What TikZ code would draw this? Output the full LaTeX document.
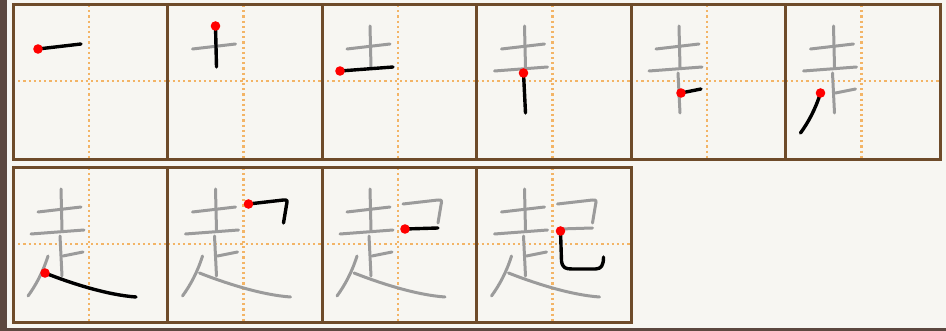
\documentclass[tikz,border=0pt]{standalone}
\usepackage{tikz}
\definecolor{paper}{HTML}{F7F6F2}
\definecolor{frame}{HTML}{6E4B2A}
\definecolor{guide}{HTML}{F3B466}
\definecolor{inkgrey}{HTML}{9B9B9B}
\definecolor{photo}{HTML}{5C4840}
\tikzset{
  cellframe/.style={draw=frame,line width=3pt},
  guideline/.style={draw=guide,line width=2.2pt,dash pattern=on 2.2pt off 3pt},
  oldstroke/.style={draw=inkgrey,line width=3pt,line cap=round,line join=round},
  newstroke/.style={draw=black,line width=3.4pt,line cap=round,line join=round},
  hua 1/.style={insert path={(25,44)--(68,39)}},
  hua 2/.style={insert path={(48,21)--(49,62)}},
  hua 3/.style={insert path={(18,66)--(71,62)}},
  hua 4/.style={insert path={(47,68)--(49,108)}},
  hua 5/.style={insert path={(50,88)--(70,84)}},
  hua 6/.style={insert path={(35,88) .. controls (30,104) and (23,117) .. (15,128)}},
  hua 7/.style={insert path={(32,105) .. controls (60,116) and (95,127) .. (123,129)}},
  hua 8/.style={insert path={(81,36)--(116,32) .. controls (120,32) .. (119,37)--(116,55)}},
  hua 9/.style={insert path={(83,61)--(116,60)}},
  hua 10/.style={insert path={(84,63)--(85,93) .. controls (86,100) and (89,101) .. (96,101)--(119,101) .. controls (125,101) and (127,97) .. (127,89)}}
}
\begin{document}
\begin{tikzpicture}[x=1pt,y=-1pt]
 \fill[paper] (0,0) rectangle (946,331);
 \fill[photo] (0,0) rectangle (7,331);
 \fill[photo] (0,328) rectangle (946,331);
 \foreach \n/\cx/\cy/\sx/\sy in {1/13/5/25/44, 2/167.5/5/48/21, 3/322/5/18/66,
     4/476.5/5/47/68, 5/631/5/50/88, 6/785.5/5/35/88, 7/13/168/32/105,
     8/167.5/168/81/36, 9/322/168/83/61, 10/476.5/168/84/63} {
   \begin{scope}[shift={(\cx,\cy)}]
     \draw[guideline] (76,0)--(76,155) (0,76)--(154.5,76);
     \draw[cellframe] (0,0) rectangle (154.5,155);
     \foreach \k in {1,...,9} {\ifnum\k<\n\relax \draw[oldstroke,hua \k]; \fi}
     \draw[newstroke,hua \n];
     \fill[red] (\sx,\sy) circle (4.8pt);
   \end{scope}
 }
\end{tikzpicture}
\end{document}
